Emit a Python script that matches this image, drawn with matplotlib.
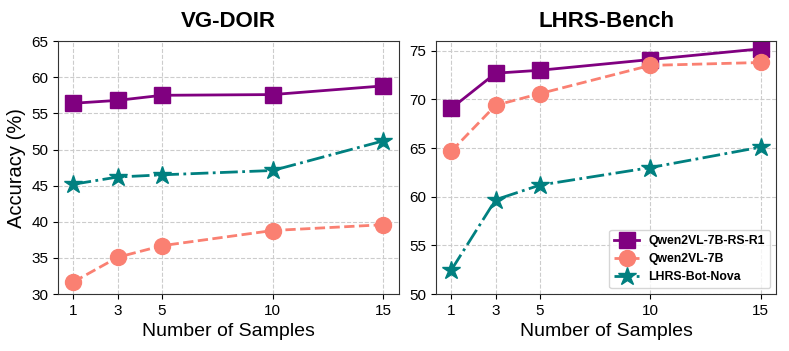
import matplotlib.pyplot as plt
import numpy as np

plt.rcParams['font.family'] = ['Liberation Sans', 'DejaVu Sans']

samples = [1, 3, 5, 10, 15]

# VG-DOIR
vg_r1 = [56.4, 56.8, 57.5, 57.6, 58.8]
vg_qwen = [31.7, 35.1, 36.7, 38.8, 39.6]
vg_nova = [45.2, 46.2, 46.5, 47.1, 51.2]

# LHRS-Bench
lh_r1 = [69.1, 72.7, 73.0, 74.1, 75.2]
lh_qwen = [64.7, 69.4, 70.6, 73.5, 73.8]
lh_nova = [52.5, 59.7, 61.2, 63.0, 65.1]

names = ['Qwen2VL-7B-RS-R1', 'Qwen2VL-7B', 'LHRS-Bot-Nova']
colores = ['#800080', '#FA8072', '#008080']
estilos = ['-', '--', '-.']
markers = ['s', 'o', '*']
msizes = [11.5, 11.5, 13.5]

fig = plt.figure(figsize=(7.89, 3.51), dpi=100)
ax1 = fig.add_axes([0.0735, 0.162, 0.432, 0.721])
ax2 = fig.add_axes([0.5526, 0.162, 0.431, 0.721])

for ax, datos, titulo, ylim, yt in [
        (ax1, [vg_r1, vg_qwen, vg_nova], 'VG-DOIR', (30, 65), np.arange(30, 66, 5)),
        (ax2, [lh_r1, lh_qwen, lh_nova], 'LHRS-Bench', (50, 76), np.arange(50, 76, 5))]:
    for i in range(3):
        ax.plot(samples, datos[i], linestyle=estilos[i], color=colores[i],
                marker=markers[i], markersize=msizes[i], linewidth=2, label=names[i])
    ax.set_title(titulo, fontsize=16, fontweight='bold', pad=10)
    ax.set_xticks(samples)
    ax.set_ylim(*ylim)
    ax.set_yticks(yt)
    ax.tick_params(labelsize=11)
    ax.set_xlabel('Number of Samples', fontsize=14)
    ax.grid(True, linestyle='--', color='#cccccc', linewidth=0.8)
    for s in ax.spines.values():
        s.set_color('#333333')

ax1.set_ylabel('Accuracy (%)', fontsize=14.5)
ax2.legend(loc='lower right', prop={'weight': 'bold', 'size': 8.8}, handlelength=2.0)

plt.savefig('out.png', dpi=100)
